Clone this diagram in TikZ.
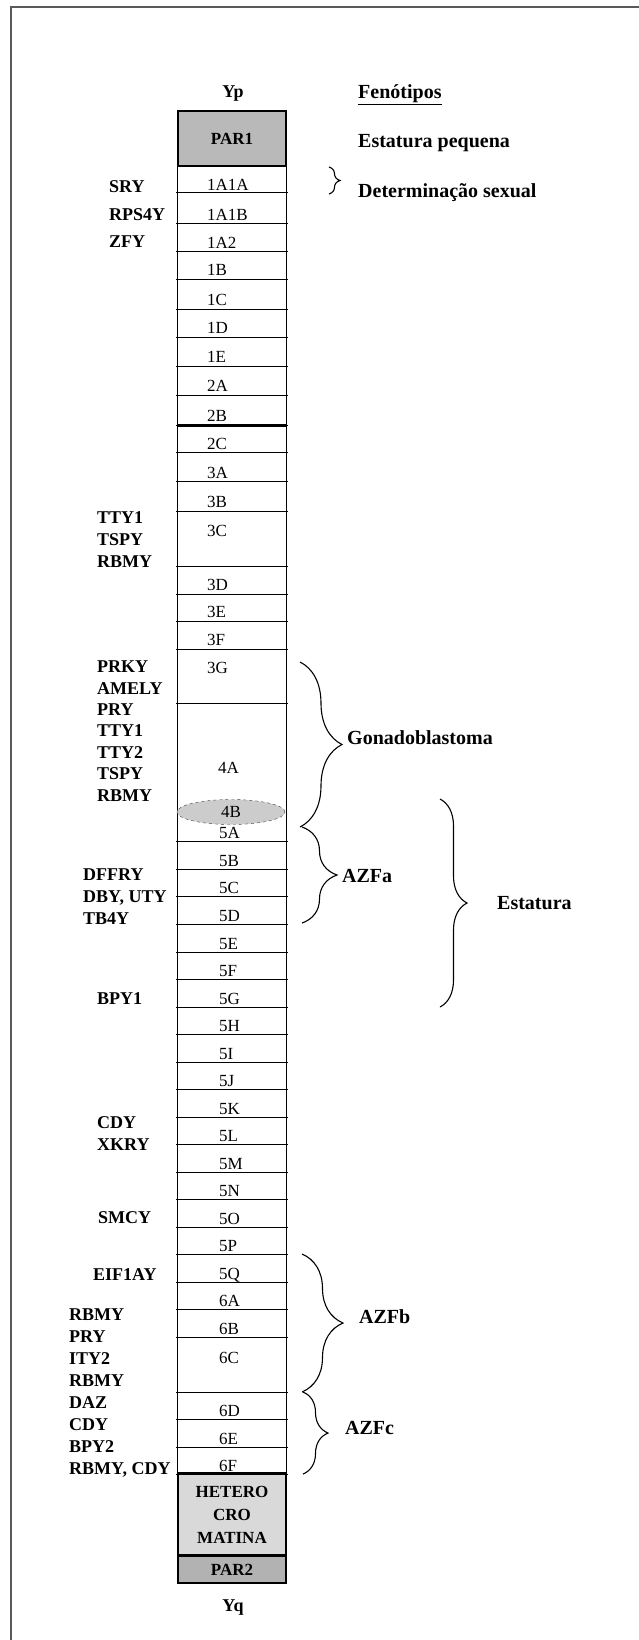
\documentclass[tikz,border=0pt]{standalone}
\usepackage{fontspec}
\setmainfont{Liberation Serif}
\usetikzlibrary{decorations.pathreplacing, shapes.geometric}

\begin{document}
\begin{tikzpicture}[x=1pt, y=-1pt,
    gene/.style={anchor=base west, align=left, inner sep=0pt, font=\fontsize{18}{21.7}\selectfont\bfseries},
    band/.style={anchor=base west, inner sep=0pt, font=\fontsize{17}{19}\selectfont},
    pheno/.style={anchor=base west, inner sep=0pt, font=\fontsize{20}{22}\selectfont\bfseries},
    block/.style={draw, line width=1.2pt, minimum width=108pt, inner sep=0pt, align=center, font=\fontsize{17}{23}\selectfont\bfseries},
    curly/.style={decorate, decoration={brace, amplitude=#1}, line width=1.1pt}]
    \useasboundingbox (0,0) rectangle (639,1640);

    % Frame
    \draw[gray!70!black, line width=1.5pt] (11,1640) -- (11,7) -- (639,7);

    % Titles
    \node[font=\fontsize{18}{20}\selectfont\bfseries, anchor=base] (yp) at (233,98) {Yp};
    \node[font=\fontsize{18}{20}\selectfont\bfseries, anchor=base] (yq) at (233,1611) {Yq};

    % Ends of the chromosome
    \node[block, fill=gray!55, minimum height=55pt] (par1) at (232,138.5) {PAR1};
    \node[block, fill=gray!30, minimum height=82pt] (hetero) at (232,1515) {HETERO\\CRO\\MATINA};
    \node[block, fill=gray!60, minimum height=27pt] (par2) at (232,1569.5) {PAR2};
    \draw[line width=1.3pt] (par1.south west) -- (hetero.north west);
    \draw[line width=1.3pt] (par1.south east) -- (hetero.north east);

    % Bands
    \foreach \lab/\bot/\base in {1A1A/193/191, 1A1B/223/220, 1A2/251/248, 1B/279/275,
        1C/309/305, 1D/337/333, 1E/366/362, 2A/395/391, 2B/425/421, 2C/452/449,
        3A/481/478, 3B/511/507, 3C/566/536, 3D/594/590, 3E/621/617, 3F/649/645, 3G/703/673} {
        \draw[line width=1pt] (176,\bot) -- (288,\bot);
        \node[band] (band\lab) at (207,\base) {\lab};
    }
    \node[band] (band4A) at (218,773) {4A};
    \foreach \lab/\bot/\base in {5A/841/838, 5B/869/866, 5C/896/893, 5D/924/921,
        5E/952/949, 5F/979/976, 5G/1007/1004, 5H/1034/1031, 5I/1062/1059, 5J/1089/1086,
        5K/1117/1114, 5L/1144/1141, 5M/1172/1169, 5N/1199/1196, 5O/1227/1224,
        5P/1254/1251, 5Q/1282/1279, 6A/1309/1306, 6B/1337/1334, 6C/1392/1363,
        6D/1419/1416, 6E/1447/1444, 6F/1474/1471} {
        \draw[line width=1pt] (176,\bot) -- (288,\bot);
        \node[band] (band\lab) at (219,\base) {\lab};
    }
    \draw[line width=3pt] (178,425) -- (286,425);
    \draw[line width=2.2pt] (hetero.north west) -- (hetero.north east);
    \draw[line width=2pt] (par2.north west) -- (par2.north east);
    \node[ellipse, draw=gray!50!black, dashed, fill=gray!40, minimum width=108pt, minimum height=25pt,
        inner sep=0pt, font=\fontsize{17}{19}\selectfont] (band4B) at (231,812) {4B};

    % Genes (a block of lines sits on the baseline of its last line)
    \node[gene] (sry) at (109,193) {SRY};
    \node[gene] (rps4y) at (109,220) {RPS4Y};
    \node[gene] (zfy) at (109,247) {ZFY};
    \node[gene] (genes3c) at (97,567) {TTY1\\TSPY\\RBMY};
    \node[gene, font=\fontsize{18}{21.4}\selectfont\bfseries] (genes4a) at (97,801)
        {PRKY\\AMELY\\PRY\\TTY1\\TTY2\\TSPY\\RBMY};
    \node[gene, font=\fontsize{18}{22}\selectfont\bfseries] (genes5c) at (83,924) {DFFRY\\DBY, UTY\\TB4Y};
    \node[gene] (bpy1) at (97,1004) {BPY1};
    \node[gene, font=\fontsize{18}{22}\selectfont\bfseries] (genes5l) at (97,1150) {CDY\\XKRY};
    \node[gene] (smcy) at (98,1223) {SMCY};
    \node[gene] (eif1ay) at (93,1280) {EIF1AY};
    \node[gene, font=\fontsize{18}{21.9}\selectfont\bfseries] (genes6b) at (69,1474)
        {RBMY\\PRY\\ITY2\\RBMY\\DAZ\\CDY\\BPY2\\RBMY, CDY};

    % Phenotypes
    \node[pheno] (fenotipos) at (358,99) {\underline{Fenótipos}};
    \node[pheno] (baixa) at (358,148) {Estatura pequena};
    \node[pheno] (sexo) at (358,197) {Determinação sexual};
    \node[pheno] (gonado) at (347,744) {Gonadoblastoma};
    \node[pheno] (azfa) at (342,882) {AZFa};
    \node[pheno] (estatura) at (497,909) {Estatura};
    \node[pheno] (azfb) at (359,1323) {AZFb};
    \node[pheno] (azfc) at (345,1434) {AZFc};

    % Braces
    \draw[curly=11pt] (329,167) -- (329,194);
    \draw[curly=42pt] (300,662) -- (300,827);
    \draw[curly=35pt] (302,827) -- (302,923);
    \draw[curly=27pt] (440,799) -- (440,1007);
    \draw[curly=41pt] (302,1254) -- (302,1392);
    \draw[curly=25pt] (303,1392) -- (303,1474);
\end{tikzpicture}
\end{document}
